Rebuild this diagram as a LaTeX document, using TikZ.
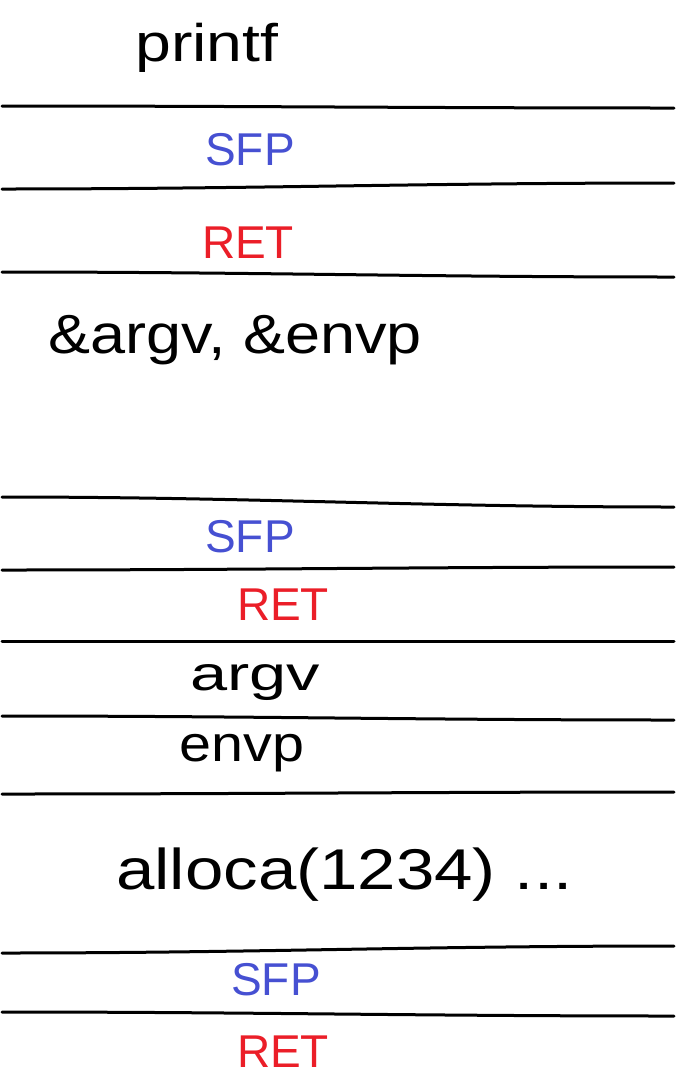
\documentclass[tikz,border=0pt]{standalone}
\usepackage{fontspec}
\setmainfont{Liberation Sans}
\definecolor{penblue}{RGB}{70,80,210}
\definecolor{penred}{RGB}{235,30,40}
\begin{document}
\begin{tikzpicture}[x=1pt,y=-1pt,
  rule/.style={line width=3pt,black,line cap=round},
  lbl/.style={inner sep=0pt,font=\fontsize{46}{46}\selectfont},
  sfp/.style={lbl,text=penblue},
  ret/.style={lbl,text=penred},
  blk/.style={lbl,text=black}]
\useasboundingbox (0,0) rectangle (676,1088);
\fill[white] (0,0) rectangle (676,1088);
% separators
\foreach \n/\a/\b in {1/106/108, 2/189/183, 3/272/277, 4/497/507, 5/570/567, 6/641/641, 7/716/720, 8/794/792, 9/953/946, 10/1012/1016}{
  \coordinate (l\n a) at (2,\a);
  \coordinate (l\n b) at (674,\b);
  \draw[rule] (l\n a) .. controls (250,\a) and (420,\b) .. (l\n b);
}
\node[blk] (printf) at (207,48) {\scalebox{1.4}[1.15]{printf}};
\node[sfp] (sfp1) at (250,150) {SFP};
\node[ret] (ret1) at (248,243) {RET};
\node[blk,anchor=west] (args) at (48,340) {\scalebox{1.37}[1.2]{\&argv, \&envp}};
\node[sfp] (sfp2) at (250,537) {SFP};
\node[ret] (ret2) at (283,605) {RET};
\node[blk] (argv) at (255,683) {\scalebox{1.45}[1.05]{argv}};
\node[blk] (envp) at (242,753) {\scalebox{1.25}[1.1]{envp}};
\node[blk,anchor=west] (alloca) at (116,875) {\scalebox{1.5}[1.25]{alloca(1234) ...}};
\node[sfp] (sfp3) at (276,980) {SFP};
\node[ret] (ret3) at (283,1052) {RET};
\end{tikzpicture}
\end{document}
